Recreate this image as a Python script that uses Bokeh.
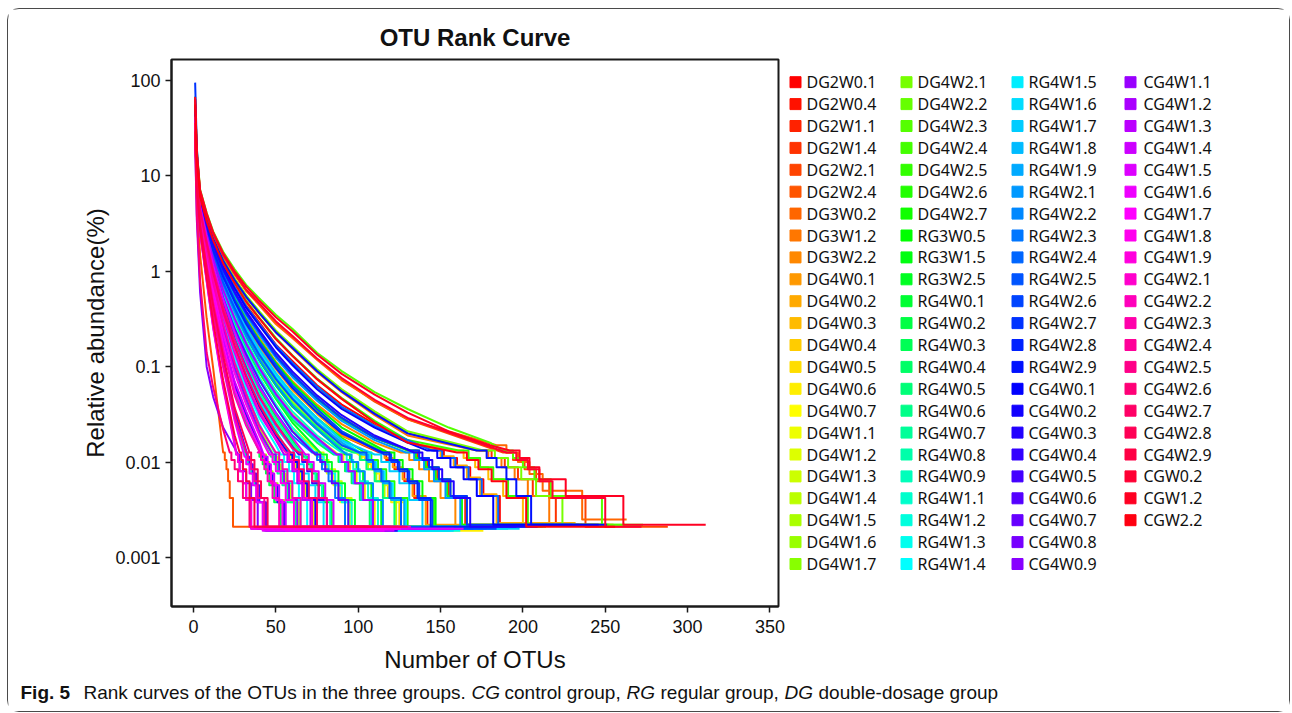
import colorsys
from bokeh.plotting import figure
from bokeh.models import Range1d, FixedTicker, CustomJSTickFormatter
from bokeh.layouts import column, row
from bokeh.core.properties import value
from bokeh.embed import file_html
from bokeh.resources import INLINE

# ---------------- data ----------------
SAMPLES = [
    "DG2W0.1", "DG2W0.4", "DG2W1.1", "DG2W1.4", "DG2W2.1", "DG2W2.4", "DG3W0.2", "DG3W1.2",
    "DG3W2.2", "DG4W0.1", "DG4W0.2", "DG4W0.3", "DG4W0.4", "DG4W0.5", "DG4W0.6", "DG4W0.7",
    "DG4W1.1", "DG4W1.2", "DG4W1.3", "DG4W1.4", "DG4W1.5", "DG4W1.6", "DG4W1.7",
    "DG4W2.1", "DG4W2.2", "DG4W2.3", "DG4W2.4", "DG4W2.5", "DG4W2.6", "DG4W2.7",
    "RG3W0.5", "RG3W1.5", "RG3W2.5", "RG4W0.1", "RG4W0.2", "RG4W0.3", "RG4W0.4", "RG4W0.5",
    "RG4W0.6", "RG4W0.7", "RG4W0.8", "RG4W0.9", "RG4W1.1", "RG4W1.2", "RG4W1.3", "RG4W1.4",
    "RG4W1.5", "RG4W1.6", "RG4W1.7", "RG4W1.8", "RG4W1.9", "RG4W2.1", "RG4W2.2", "RG4W2.3",
    "RG4W2.4", "RG4W2.5", "RG4W2.6", "RG4W2.7", "RG4W2.8", "RG4W2.9",
    "CG4W0.1", "CG4W0.2", "CG4W0.3", "CG4W0.4", "CG4W0.5", "CG4W0.6", "CG4W0.7", "CG4W0.8",
    "CG4W0.9", "CG4W1.1", "CG4W1.2", "CG4W1.3", "CG4W1.4", "CG4W1.5", "CG4W1.6", "CG4W1.7",
    "CG4W1.8", "CG4W1.9", "CG4W2.1", "CG4W2.2", "CG4W2.3", "CG4W2.4", "CG4W2.5", "CG4W2.6",
    "CG4W2.7", "CG4W2.8", "CG4W2.9", "CGW0.2", "CGW1.2", "CGW2.2",
]

# OTU ranks at which the relative abundance (%) of each sample was read
RANKS = [1, 2, 4, 8, 12, 18, 25, 32, 40, 50, 60, 75, 90, 110, 130, 155, 180]

# relative abundance (%) at RANKS (a row stops where the curve enters its low-count stairs)
ABUND = [
    [58, 15, 6.0, 3.25, 2.0, 1.15, 0.69, 0.44, 0.29, 0.17, 0.115, 0.064, 0.04, 0.025, 0.017],
    [47, 13, 5.3, 2.8, 1.62, 0.85, 0.47, 0.28, 0.165, 0.1, 0.058, 0.034, 0.019],
    [53, 14, 5.6, 3.05, 1.85, 1.02, 0.58, 0.36, 0.225, 0.13, 0.082, 0.046, 0.029, 0.018],
    [57, 15, 6.2, 3.5, 2.2, 1.32, 0.83, 0.55, 0.37, 0.235, 0.16, 0.092, 0.056, 0.033, 0.02],
    [64, 17, 6.8, 3.85, 2.45, 1.46, 0.93, 0.63, 0.45, 0.29, 0.21, 0.12, 0.074, 0.043, 0.028],
    [30, 6.0, 1.5, 0.32, 0.095],
    [63, 17, 6.7, 3.8, 2.4, 1.43, 0.92, 0.62, 0.44, 0.28, 0.2, 0.118, 0.072, 0.044, 0.028],
    [56, 15, 6.1, 3.45, 2.15, 1.27, 0.8, 0.53, 0.36, 0.228, 0.155, 0.088, 0.054, 0.031, 0.019],
    [50, 14, 5.4, 2.9, 1.72, 0.93, 0.53, 0.32, 0.2, 0.113, 0.071, 0.04, 0.025, 0.016],
    [45, 13, 5.2, 2.75, 1.6, 0.84, 0.46, 0.27, 0.16, 0.094, 0.057, 0.032, 0.019],
    [50, 14, 5.7, 3.15, 1.95, 1.1, 0.67, 0.42, 0.275, 0.165, 0.108, 0.061, 0.037, 0.024, 0.016],
    [52, 14, 5.9, 3.3, 2.05, 1.19, 0.74, 0.47, 0.32, 0.195, 0.13, 0.074, 0.046, 0.026, 0.016],
    [42, 12, 5.0, 2.6, 1.47, 0.74, 0.4, 0.225, 0.13, 0.073, 0.045, 0.025, 0.015],
    [40, 12, 4.9, 2.5, 1.36, 0.65, 0.33, 0.18, 0.1, 0.054, 0.032, 0.018],
    [44, 12, 5.1, 2.65, 1.5, 0.77, 0.41, 0.232, 0.135, 0.076, 0.047, 0.026, 0.016],
    [38, 11, 4.7, 2.3, 1.2, 0.55, 0.26, 0.14, 0.075, 0.039, 0.022],
    [41, 12, 4.9, 2.48, 1.35, 0.64, 0.32, 0.175, 0.098, 0.053, 0.031, 0.018],
    [36, 11, 4.3, 1.9, 0.9, 0.36, 0.155, 0.074, 0.036, 0.018],
    [39, 11, 4.7, 2.3, 1.22, 0.56, 0.27, 0.145, 0.078, 0.04, 0.023],
    [37, 11, 4.0, 1.65, 0.73, 0.27, 0.105, 0.049, 0.023],
    [43, 12, 5.0, 2.6, 1.45, 0.72, 0.39, 0.22, 0.125, 0.07, 0.043, 0.024, 0.014],
    [35, 10, 3.6, 1.35, 0.56, 0.18, 0.062, 0.03, 0.015],
    [38, 11, 4.5, 2.1, 1.05, 0.45, 0.2, 0.1, 0.05, 0.026, 0.015],
    [57, 15, 6.2, 3.5, 2.22, 1.33, 0.84, 0.56, 0.38, 0.24, 0.165, 0.094, 0.058, 0.034, 0.021],
    [51, 14, 5.6, 3.05, 1.85, 1.02, 0.58, 0.36, 0.23, 0.13, 0.083, 0.047, 0.029, 0.018],
    [68, 19, 7.2, 4.1, 2.6, 1.6, 1.05, 0.72, 0.52, 0.35, 0.25, 0.14, 0.09, 0.054, 0.036, 0.023, 0.016],
    [49, 14, 5.4, 2.85, 1.68, 0.9, 0.49, 0.29, 0.175, 0.1, 0.062, 0.035, 0.021],
    [54, 15, 6.0, 3.35, 2.1, 1.22, 0.76, 0.49, 0.325, 0.2, 0.132, 0.075, 0.047, 0.027, 0.017],
    [46, 13, 5.2, 2.75, 1.58, 0.81, 0.44, 0.25, 0.146, 0.083, 0.052, 0.029, 0.018],
    [48, 13, 5.5, 3.0, 1.82, 1.0, 0.57, 0.35, 0.22, 0.127, 0.08, 0.045, 0.028, 0.018],
    [44, 13, 5.4, 2.9, 1.73, 0.93, 0.52, 0.31, 0.19, 0.11, 0.068, 0.038, 0.023],
    [42, 12, 5.0, 2.6, 1.45, 0.72, 0.37, 0.205, 0.115, 0.063, 0.038, 0.022],
    [40, 12, 4.8, 2.4, 1.28, 0.6, 0.29, 0.16, 0.087, 0.046, 0.026],
    [39, 11, 4.6, 2.2, 1.12, 0.49, 0.22, 0.112, 0.057, 0.03, 0.017],
    [34, 10, 3.4, 1.25, 0.5, 0.16, 0.054, 0.026, 0.013],
    [41, 12, 4.7, 2.38, 1.28, 0.6, 0.3, 0.16, 0.088, 0.047, 0.028, 0.016],
    [36, 11, 4.4, 2.0, 0.97, 0.4, 0.175, 0.085, 0.042, 0.021],
    [43, 12, 5.0, 2.58, 1.43, 0.71, 0.375, 0.21, 0.12, 0.067, 0.041, 0.023, 0.014],
    [35, 10, 3.8, 1.55, 0.67, 0.24, 0.092, 0.043, 0.02],
    [40, 11, 4.6, 2.25, 1.17, 0.53, 0.25, 0.135, 0.072, 0.038, 0.021],
    [33, 9, 3.0, 1.0, 0.38, 0.108, 0.03],
    [42, 12, 4.6, 2.15, 1.08, 0.47, 0.21, 0.105, 0.053, 0.028, 0.016],
    [44, 12, 5.0, 2.55, 1.4, 0.68, 0.34, 0.186, 0.104, 0.056, 0.034, 0.019],
    [37, 11, 4.1, 1.7, 0.77, 0.29, 0.115, 0.054, 0.025],
    [41, 12, 4.7, 2.32, 1.22, 0.56, 0.265, 0.143, 0.077, 0.04, 0.023],
    [35, 10, 4.0, 1.75, 0.8, 0.31, 0.128, 0.06, 0.029, 0.015],
    [43, 12, 5.2, 2.72, 1.55, 0.79, 0.43, 0.245, 0.142, 0.08, 0.05, 0.028, 0.017],
    [40, 11, 4.4, 2.0, 0.98, 0.41, 0.18, 0.088, 0.044, 0.023, 0.014],
    [45, 13, 5.2, 2.72, 1.58, 0.82, 0.445, 0.255, 0.152, 0.086, 0.052, 0.029, 0.017],
    [42, 12, 4.8, 2.42, 1.3, 0.62, 0.31, 0.168, 0.093, 0.05, 0.03, 0.017],
    [44, 12, 5.2, 2.7, 1.52, 0.77, 0.41, 0.235, 0.135, 0.076, 0.047, 0.026, 0.016],
    [47, 13, 5.4, 2.95, 1.79, 0.98, 0.56, 0.345, 0.215, 0.124, 0.078, 0.044, 0.027, 0.017],
    [43, 12, 5.1, 2.62, 1.47, 0.73, 0.38, 0.21, 0.118, 0.065, 0.039, 0.022],
    [41, 12, 4.6, 2.2, 1.12, 0.5, 0.23, 0.122, 0.064, 0.033, 0.019],
    [50, 14, 5.8, 3.2, 1.98, 1.13, 0.68, 0.43, 0.28, 0.168, 0.11, 0.062, 0.038, 0.024, 0.017],
    [44, 12, 5.1, 2.65, 1.5, 0.76, 0.41, 0.23, 0.132, 0.074, 0.046, 0.025, 0.015],
    [42, 12, 5.3, 2.85, 1.7, 0.91, 0.5, 0.3, 0.182, 0.105, 0.064, 0.036, 0.021],
    [95, 20, 5.8, 3.1, 1.86, 1.02, 0.59, 0.36, 0.23, 0.13, 0.083, 0.047, 0.029, 0.018],
    [45, 12, 5.3, 2.8, 1.65, 0.87, 0.48, 0.28, 0.17, 0.097, 0.06, 0.033, 0.02],
    [55, 15, 6.1, 3.45, 2.18, 1.3, 0.81, 0.54, 0.365, 0.23, 0.158, 0.09, 0.055, 0.032, 0.02],
    [53, 14, 5.8, 3.2, 1.95, 1.1, 0.66, 0.415, 0.27, 0.16, 0.104, 0.058, 0.036, 0.023, 0.016],
    [36, 10, 4.3, 1.9, 0.92, 0.37, 0.16, 0.078, 0.038, 0.019],
    [48, 13, 5.6, 3.08, 1.9, 1.06, 0.61, 0.38, 0.24, 0.14, 0.089, 0.05, 0.031, 0.019],
    [34, 10, 3.5, 1.32, 0.55, 0.185, 0.064, 0.031, 0.015],
    [40, 11, 4.5, 2.1, 1.03, 0.44, 0.195, 0.097, 0.048, 0.025, 0.0145],
    [33, 10, 3.1, 1.05, 0.41, 0.12, 0.034],
    [37, 11, 4.6, 2.25, 1.17, 0.53, 0.25, 0.135, 0.072, 0.038, 0.021],
    [30, 8, 2.6, 0.8, 0.26, 0.063, 0.016],
    [22, 3.5, 0.6, 0.1, 0.048, 0.023, 0.014],
    [35, 10, 3.9, 1.6, 0.7, 0.255, 0.098, 0.046, 0.021],
    [41, 11, 4.8, 2.45, 1.34, 0.64, 0.32, 0.175, 0.097, 0.052, 0.031, 0.018],
    [36, 10, 4.1, 1.8, 0.83, 0.33, 0.14, 0.066, 0.032, 0.017],
    [34, 10, 3.7, 1.4, 0.6, 0.2, 0.07, 0.034, 0.016],
    [42, 12, 4.7, 2.25, 1.15, 0.51, 0.23, 0.118, 0.06, 0.032, 0.018],
    [33, 9.5, 2.9, 0.95, 0.35, 0.098, 0.027],
    [30, 8.5, 3.4, 1.25, 0.52, 0.17, 0.058, 0.028, 0.014],
    [35, 10, 3.7, 1.5, 0.64, 0.225, 0.085, 0.04, 0.019],
    [28, 7.5, 2.5, 0.78, 0.25, 0.06, 0.015],
    [36, 10, 4.2, 1.85, 0.86, 0.345, 0.148, 0.07, 0.034, 0.0175],
    [31, 8.5, 3.3, 1.2, 0.48, 0.15, 0.05, 0.024, 0.013],
    [34, 10, 4.0, 1.68, 0.75, 0.28, 0.11, 0.052, 0.024],
    [29, 8, 2.9, 0.98, 0.37, 0.105, 0.03],
    [35, 10, 4.4, 2.05, 1.02, 0.43, 0.19, 0.095, 0.048, 0.025, 0.014],
    [24, 4.0, 0.8, 0.14, 0.06, 0.022],
    [36, 10, 4.4, 1.95, 0.95, 0.38, 0.165, 0.08, 0.04, 0.02],
    [30, 8, 3.1, 1.08, 0.43, 0.13, 0.037],
    [29, 7.8, 2.7, 0.85, 0.29, 0.072, 0.019],
    [64, 17, 6.9, 3.9, 2.45, 1.47, 0.95, 0.64, 0.46, 0.3, 0.21, 0.122, 0.076, 0.045, 0.029],
    [67, 18, 7.1, 4.05, 2.55, 1.55, 1.0, 0.69, 0.49, 0.33, 0.235, 0.134, 0.084, 0.051, 0.033, 0.021, 0.015],
    [56, 15, 6.0, 3.35, 2.1, 1.21, 0.75, 0.48, 0.32, 0.195, 0.13, 0.074, 0.046, 0.026, 0.016],
]

# low-count stairs of each curve (ranks): [reaches 6 reads, leaves 6, leaves 5, leaves 4,
# leaves 3, leaves 2 reads (drops to a single read), number of OTUs]
TAIL = [
    [146, 152, 160, 168, 176, 186, 236], [113, 117, 122, 128, 134, 142, 205],
    [131, 136, 142, 148, 155, 165, 222], [174, 181, 189, 197, 206, 220, 255],
    [188, 194, 201, 208, 216, 238, 288], [18, 19, 20, 21, 22, 24, 150],
    [184, 190, 197, 204, 212, 236, 263], [172, 179, 187, 195, 203, 216, 248],
    [126, 131, 137, 143, 150, 159, 212], [112, 116, 121, 127, 133, 141, 200],
    [144, 150, 158, 166, 174, 184, 232], [158, 164, 171, 179, 188, 200, 244],
    [100, 104, 108, 113, 118, 125, 186], [88, 91, 95, 99, 104, 110, 168],
    [102, 106, 110, 115, 120, 128, 176], [75, 78, 81, 85, 89, 95, 158],
    [87, 90, 94, 98, 103, 109, 160], [57, 59, 62, 65, 68, 73, 134],
    [76, 79, 82, 86, 90, 96, 152], [49, 51, 53, 56, 59, 64, 130],
    [98, 102, 106, 111, 116, 123, 168], [42, 44, 46, 48, 51, 55, 126],
    [64, 66, 69, 72, 76, 81, 140],
    [176, 183, 191, 199, 208, 224, 262], [132, 137, 143, 149, 156, 166, 226],
    [188, 194, 200, 207, 217, 248, 273], [116, 120, 125, 131, 137, 146, 214],
    [161, 167, 174, 182, 191, 203, 252], [104, 108, 112, 117, 122, 130, 208],
    [130, 135, 141, 147, 154, 163, 218],
    [118, 122, 127, 133, 139, 147, 202], [92, 95, 99, 103, 108, 114, 172],
    [78, 81, 84, 88, 92, 98, 164], [67, 69, 72, 75, 79, 84, 156],
    [40, 42, 44, 46, 49, 53, 122], [85, 88, 92, 96, 101, 107, 160],
    [59, 61, 64, 67, 70, 75, 136], [97, 101, 105, 110, 115, 122, 168],
    [47, 49, 51, 54, 57, 62, 128], [74, 77, 80, 84, 88, 94, 154],
    [32, 33, 35, 37, 39, 43, 120], [66, 68, 71, 74, 78, 83, 164],
    [90, 93, 97, 101, 106, 112, 174], [50, 52, 54, 57, 60, 65, 130],
    [76, 79, 82, 86, 90, 96, 162], [53, 55, 58, 61, 64, 69, 126],
    [103, 107, 111, 116, 121, 129, 191], [62, 64, 67, 70, 74, 79, 158],
    [110, 114, 119, 125, 131, 139, 198], [86, 89, 93, 97, 102, 108, 166],
    [102, 106, 110, 115, 120, 128, 178], [129, 134, 140, 146, 153, 162, 207],
    [93, 96, 100, 104, 109, 115, 170], [72, 75, 78, 82, 86, 92, 160],
    [145, 151, 159, 167, 175, 185, 234], [101, 105, 109, 114, 119, 126, 176],
    [116, 120, 125, 131, 137, 145, 184], [132, 137, 143, 149, 156, 166, 230],
    [115, 119, 124, 130, 136, 144, 196], [172, 178, 184, 190, 196, 205, 251],
    [142, 148, 156, 164, 172, 182, 246], [58, 60, 63, 66, 69, 74, 132],
    [134, 139, 145, 151, 158, 168, 209], [42, 44, 46, 48, 51, 55, 124],
    [64, 66, 69, 72, 76, 81, 156], [33, 34, 36, 38, 40, 44, 118],
    [74, 77, 80, 84, 88, 94, 138], [26, 27, 28, 30, 32, 35, 112],
    [27, 28, 30, 32, 35, 39, 108], [48, 50, 52, 55, 58, 63, 128],
    [87, 90, 94, 98, 103, 109, 158], [55, 57, 60, 63, 66, 71, 130],
    [43, 45, 47, 49, 52, 56, 122], [68, 70, 73, 76, 80, 85, 164],
    [31, 32, 34, 36, 38, 42, 116], [41, 43, 45, 47, 50, 54, 118],
    [46, 48, 50, 53, 56, 61, 126], [26, 27, 28, 30, 32, 35, 106],
    [56, 58, 61, 64, 67, 72, 132], [39, 41, 43, 45, 48, 52, 120],
    [50, 52, 54, 57, 60, 65, 124], [32, 33, 35, 37, 39, 43, 110],
    [64, 66, 69, 72, 76, 81, 128], [22, 23, 25, 27, 30, 34, 104],
    [59, 61, 64, 67, 70, 75, 130], [34, 35, 37, 39, 41, 45, 114],
    [28, 29, 30, 32, 34, 37, 110],
    [190, 196, 203, 210, 218, 250, 272], [192, 198, 204, 210, 226, 261, 311],
    [160, 166, 173, 181, 190, 202, 256],
]

# relative abundance (%) of a single read in each sample
FLOOR = [
    0.0022, 0.0021, 0.0022, 0.0022, 0.0021, 0.0021, 0.0025, 0.0022, 0.0021, 0.0022,
    0.0023, 0.0022, 0.0021, 0.0020, 0.0019, 0.0019, 0.0020, 0.0020, 0.0021, 0.0019,
    0.0021, 0.0020, 0.0021, 0.0022, 0.0022, 0.0022, 0.0021, 0.0022, 0.0021, 0.0022,
    0.0021, 0.0020, 0.0020, 0.0019, 0.0019, 0.0020, 0.0020, 0.0021, 0.0019, 0.0020,
    0.0019, 0.0020, 0.0021, 0.0020, 0.0019, 0.0020, 0.0020, 0.0019, 0.0020, 0.0020,
    0.0020, 0.0021, 0.0020, 0.0021, 0.0022, 0.0021, 0.0020, 0.0022, 0.0021, 0.0022,
    0.0022, 0.0020, 0.0021, 0.0019, 0.0020, 0.0019, 0.0020, 0.0020, 0.0020, 0.0020,
    0.0020, 0.0020, 0.0019, 0.0020, 0.0019, 0.0020, 0.0020, 0.0020, 0.0021, 0.0021,
    0.0021, 0.0021, 0.0021, 0.0021, 0.0021, 0.0021, 0.0021, 0.0021, 0.0022, 0.0021,
]
READ_LEVELS = [6, 5, 4, 3, 2, 1]  # reads per OTU along the stairs

X_TICKS = [0, 50, 100, 150, 200, 250, 300, 350]
Y_TICKS = [0.001, 0.01, 0.1, 1, 10, 100]

TITLE = "OTU Rank Curve"
X_LABEL = "Number of OTUs"
Y_LABEL = "Relative abundance(%)"
CAPTION = [  # (text, style, left position in px inside the framed panel)
    ("Fig. 5", "bold", 12),
    ("Rank curves of the OTUs in the three groups.", "normal", 75),
    ("CG", "italic", 463),
    ("control group,", "normal", 496),
    ("RG", "italic", 618),
    ("regular group,", "normal", 652),
    ("DG", "italic", 776),
    ("double-dosage group", "normal", 810),
]

# ---------------- build curves ----------------
n_s = len(SAMPLES)
colors = []
for i in range(n_s):
    r, g, b = colorsys.hsv_to_rgb(i / n_s, 1.0, 1.0)
    colors.append("#%02x%02x%02x" % (int(round(r * 255)), int(round(g * 255)), int(round(b * 255))))

xs, ys = [], []
for vals, tail, f in zip(ABUND, TAIL, FLOOR):
    x = list(RANKS[:len(vals)])
    y = list(vals)
    start, ends, n_otu = tail[0], tail[1:-1], tail[-1]
    x.append(start)
    y.append(READ_LEVELS[0] * f)
    for k, e in enumerate(ends):
        x += [e, e]
        y += [READ_LEVELS[k] * f, READ_LEVELS[k + 1] * f]
    x.append(n_otu)
    y.append(READ_LEVELS[-1] * f)
    xs.append(x)
    ys.append(y)

FONT = "Liberation Sans"

# panel starts at (8, 9) on the page (7/8 px margin + 1 px rounded border)
p = figure(width=780, height=667, y_axis_type="log",
           x_range=Range1d(-13.36, 355.2), y_range=Range1d(10 ** -3.514, 10 ** 2.22),
           output_backend="svg", toolbar_location=None,
           min_border_left=163, min_border_right=10, min_border_top=50, min_border_bottom=70,
           title=TITLE)
p.title.align = "center"
p.title.text_font = FONT
p.title.text_font_size = "24px"
p.title.text_font_style = "bold"
p.title.text_color = "#111111"
p.title.standoff = 17

p.multi_line(xs=xs, ys=ys, line_color=colors, line_width=2, line_join="round")

p.xgrid.visible = False
p.ygrid.visible = False
p.outline_line_color = "#1a1a1a"
p.outline_line_width = 2
p.background_fill_color = "white"
p.border_fill_color = "white"

p.xaxis.ticker = FixedTicker(ticks=X_TICKS)
p.yaxis.ticker = FixedTicker(ticks=Y_TICKS)
p.yaxis.formatter = CustomJSTickFormatter(code="return tick.toString();")
p.xaxis.axis_label = X_LABEL
p.yaxis.axis_label = Y_LABEL
for ax in (p.xaxis[0], p.yaxis[0]):
    ax.axis_line_color = "#1a1a1a"
    ax.axis_line_width = 2
    ax.major_tick_line_color = "#1a1a1a"
    ax.major_tick_line_width = 1.5
    ax.major_tick_in = 0
    ax.major_tick_out = 6
    ax.minor_tick_line_color = None
    ax.major_label_text_font = FONT
    ax.major_label_text_font_size = "18px"
    ax.major_label_text_color = "#111111"
    ax.axis_label_text_font = FONT
    ax.axis_label_text_font_size = "24px"
    ax.axis_label_text_font_style = "normal"
    ax.axis_label_text_color = "#111111"
p.xaxis.major_label_standoff = 7
p.yaxis.major_label_standoff = 5
p.xaxis.axis_label_standoff = 10
p.yaxis.axis_label_standoff = 3


def blank(w, h, xr, yr, **kw):
    f = figure(width=w, height=h, x_range=xr, y_range=yr, output_backend="svg",
               toolbar_location=None, x_axis_location=None, y_axis_location=None, **kw)
    f.xgrid.visible = False
    f.ygrid.visible = False
    f.outline_line_color = None
    return f


# ---------------- legend (frame aligned with the plot frame: 547 px tall) ----------------
LW, LH = 501, 667
lg = blank(LW, LH, Range1d(0, LW), Range1d(547, 0),
           min_border_left=0, min_border_right=0, min_border_top=50, min_border_bottom=70)
rows_per_col = 23
col_sq = [7, 118, 229, 342]
col_tx = [18, 129, 240, 355]
sqx, sqy, tx, ty = [], [], [], []
for i in range(n_s):
    c, r = divmod(i, rows_per_col)
    yy = 22.7 + 21.9 * r
    sqx.append(col_sq[c]); sqy.append(yy)
    tx.append(col_tx[c]); ty.append(yy)
lg.scatter(x=sqx, y=sqy, marker="square", size=11, fill_color=colors, line_color=colors)
lg.text(x=tx, y=ty, text=SAMPLES, text_font=value("Noto Sans"), text_font_size="16px",
        text_baseline="middle", text_align="left", text_color="#111111")

# ---------------- caption ----------------
CW, CH = 1281, 35
cap = blank(CW, CH, Range1d(0, CW), Range1d(CH, 0), min_border=0)
for txt, style, xpos in CAPTION:
    cap.text(x=[xpos], y=[16], text=[txt], text_font=value(FONT), text_font_size="19px",
             text_font_style=style, text_baseline="middle", text_align="left", text_color="#111111")

layout = column(row(p, lg), cap,
                styles={"border": "1px solid #4a4a4a", "border-radius": "12px",
                        "margin-left": "7px", "margin-top": "8px", "background": "white"})
open("out.html", "w").write(file_html(layout, INLINE))
